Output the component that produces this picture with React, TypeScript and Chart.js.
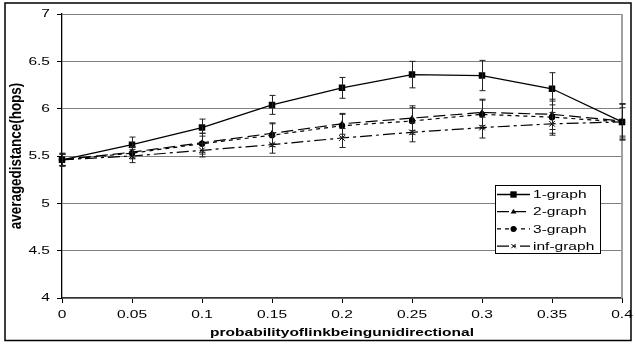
import React, { useEffect, useRef } from 'react';
import { Chart, registerables } from 'chart.js';

Chart.register(...registerables);

const categories = ['0', '0.05', '0.1', '0.15', '0.2', '0.25', '0.3', '0.35', '0.4'];
const seriesNames = ['1-graph', '2-graph', '3-graph', 'inf-graph'];

const graph1 = [5.46, 5.62, 5.8, 6.04, 6.22, 6.36, 6.35, 6.21, 5.86];
const graph1Err = [0.07, 0.08, 0.09, 0.1, 0.11, 0.14, 0.16, 0.17, 0.19];
const graph2 = [5.46, 5.54, 5.64, 5.74, 5.84, 5.9, 5.96, 5.94, 5.87];
const graph2Err = [0.06, 0.06, 0.1, 0.11, 0.11, 0.13, 0.14, 0.16, 0.18];
const graph3 = [5.46, 5.53, 5.63, 5.72, 5.82, 5.87, 5.94, 5.91, 5.86];
const graph3Err = [0.06, 0.06, 0.11, 0.12, 0.12, 0.14, 0.15, 0.17, 0.19];
const graphInf = [5.46, 5.5, 5.56, 5.62, 5.69, 5.75, 5.8, 5.84, 5.86];
const graphInfErr = [0.06, 0.07, 0.07, 0.09, 0.1, 0.1, 0.11, 0.12, 0.15];

const yMin = 4;
const yMax = 7;
const yStep = 0.5;
const xTitle = 'probabilityoflinkbeingunidirectional';
const yTitle = 'averagedistance(hops)';

const FONT = "'Liberation Sans', Arial, sans-serif";

const errors = [graph1Err, graph2Err, graph3Err, graphInfErr];

function drawMarker(ctx: CanvasRenderingContext2D, style: string, x: number, y: number, r: number) {
  ctx.save();
  ctx.fillStyle = '#000';
  ctx.strokeStyle = '#000';
  ctx.lineWidth = 1;
  ctx.setLineDash([]);
  ctx.beginPath();
  if (style === 'rect') {
    const s = r * Math.SQRT1_2;
    ctx.rect(x - s, y - s, 2 * s, 2 * s);
    ctx.fill();
  } else if (style === 'triangle') {
    ctx.moveTo(x, y - r);
    ctx.lineTo(x + r * 0.95, y + r * 0.6);
    ctx.lineTo(x - r * 0.95, y + r * 0.6);
    ctx.closePath();
    ctx.fill();
  } else if (style === 'circle') {
    ctx.arc(x, y, r, 0, Math.PI * 2);
    ctx.fill();
  } else {
    const s = r * Math.SQRT1_2;
    ctx.moveTo(x - s, y - s);
    ctx.lineTo(x + s, y + s);
    ctx.moveTo(x - s, y + s);
    ctx.lineTo(x + s, y - s);
    ctx.stroke();
  }
  ctx.restore();
}

const framePlugin = {
  id: 'frame',
  beforeDatasetsDraw(chart: any) {
    const { ctx, chartArea } = chart;
    ctx.save();
    ctx.strokeStyle = '#a0a0a0';
    ctx.lineWidth = 2;
    ctx.beginPath();
    ctx.moveTo(chartArea.right, chartArea.top);
    ctx.lineTo(chartArea.right, chartArea.bottom);
    ctx.stroke();
    ctx.restore();
  },
  afterDraw(chart: any) {
    const { ctx } = chart;
    ctx.save();
    ctx.strokeStyle = '#000';
    ctx.lineWidth = 1.5;
    ctx.strokeRect(5, 3, 626, 337.5);
    ctx.restore();
  },
};

const errorBarPlugin = {
  id: 'errorBars',
  afterDatasetsDraw(chart: any) {
    const { ctx } = chart;
    const yScale = chart.scales.y;
    ctx.save();
    ctx.strokeStyle = '#222';
    ctx.lineWidth = 1;
    ctx.setLineDash([]);
    chart.data.datasets.forEach((ds: any, i: number) => {
      const meta = chart.getDatasetMeta(i);
      const errs = errors[i];
      meta.data.forEach((pt: any, j: number) => {
        const v = ds.data[j];
        const e = errs[j];
        const x = Math.round(pt.x) + 0.5;
        const yt = yScale.getPixelForValue(v + e);
        const yb = yScale.getPixelForValue(v - e);
        ctx.beginPath();
        ctx.moveTo(x, yt);
        ctx.lineTo(x, yb);
        ctx.moveTo(x - 3, yt);
        ctx.lineTo(x + 3, yt);
        ctx.moveTo(x - 3, yb);
        ctx.lineTo(x + 3, yb);
        ctx.stroke();
      });
    });
    ctx.restore();
  },
};

const legendPlugin = {
  id: 'boxLegend',
  afterDraw(chart: any) {
    const { ctx } = chart;
    const bx = 495;
    const by = 185;
    const bw = 105;
    const bh = 68;
    ctx.save();
    ctx.fillStyle = '#fff';
    ctx.fillRect(bx, by, bw, bh);
    ctx.strokeStyle = '#000';
    ctx.lineWidth = 1;
    ctx.strokeRect(bx + 0.5, by + 0.5, bw, bh);
    chart.data.datasets.forEach((ds: any, i: number) => {
      const cy = by + 9.5 + i * 17.2;
      ctx.save();
      ctx.strokeStyle = '#000';
      ctx.lineWidth = ds.borderWidth;
      ctx.setLineDash(ds.borderDash || []);
      ctx.beginPath();
      ctx.moveTo(bx + 2, cy);
      ctx.lineTo(bx + 35, cy);
      ctx.stroke();
      ctx.restore();
      drawMarker(ctx, ds.pointStyle, bx + 18.5, cy, ds.pointStyle === 'rect' ? 4.5 : 3);
      ctx.fillStyle = '#000';
      ctx.font = `11.5px ${FONT}`;
      ctx.textAlign = 'left';
      ctx.textBaseline = 'middle';
      ctx.fillText(ds.label, bx + 38, cy + 0.5);
    });
    ctx.restore();
  },
};

export default function App() {
  const ref = useRef<HTMLCanvasElement | null>(null);

  useEffect(() => {
    const canvas = ref.current;
    if (!canvas) return;
    const ctx = canvas.getContext('2d') as any;
    const orig = CanvasRenderingContext2D.prototype.fillText;
    ctx.fillText = function (text: string, x: number, y: number) {
      const m = this.getTransform();
      const rotated = Math.abs(m.b) > 0.5;
      this.save();
      this.translate(x, y);
      if (rotated) this.scale(1.17, 1.36);
      else this.scale(1.35, 1);
      orig.call(this, text, 0, 0);
      this.restore();
    };

    const chart = new Chart(canvas, {
      type: 'line',
      data: {
        labels: categories,
        datasets: [
          {
            label: seriesNames[0],
            data: graph1,
            borderColor: '#000',
            backgroundColor: '#000',
            borderWidth: 1.3,
            pointStyle: 'rect',
            pointRadius: 4.6,
            pointBackgroundColor: '#000',
            pointBorderColor: '#000',
            pointBorderWidth: 0,
            tension: 0,
          },
          {
            label: seriesNames[1],
            data: graph2,
            borderColor: '#000',
            backgroundColor: '#000',
            borderWidth: 1.2,
            borderDash: [12, 5],
            pointStyle: 'triangle',
            pointRadius: 3.5,
            pointBackgroundColor: '#000',
            pointBorderColor: '#000',
            pointBorderWidth: 0,
            tension: 0,
          },
          {
            label: seriesNames[2],
            data: graph3,
            borderColor: '#000',
            backgroundColor: '#000',
            borderWidth: 1.2,
            borderDash: [4, 4],
            pointStyle: 'circle',
            pointRadius: 3.2,
            pointBackgroundColor: '#000',
            pointBorderColor: '#000',
            pointBorderWidth: 0,
            tension: 0,
          },
          {
            label: seriesNames[3],
            data: graphInf,
            borderColor: '#000',
            backgroundColor: '#000',
            borderWidth: 1.2,
            borderDash: [12, 4, 3, 4],
            pointStyle: 'crossRot',
            pointRadius: 4,
            pointBackgroundColor: '#000',
            pointBorderColor: '#000',
            pointBorderWidth: 1,
            tension: 0,
          },
        ],
      },
      options: {
        animation: false,
        responsive: false,
        devicePixelRatio: 1,
        layout: { padding: { left: 0, top: 14, right: 12, bottom: 0 } },
        plugins: {
          legend: { display: false },
          tooltip: { enabled: false },
        },
        scales: {
          x: {
            type: 'category',
            offset: false,
            afterFit: (scale: any) => {
              scale.height = 46;
            },
            grid: {
              display: true,
              drawOnChartArea: false,
              drawTicks: true,
              tickLength: 5,
              tickColor: '#000',
            },
            border: { display: true, color: '#333', width: 1.2 },
            ticks: {
              color: '#000',
              font: { family: FONT, size: 11.5 },
              padding: 5,
              maxRotation: 0,
              autoSkip: false,
            },
            title: {
              display: true,
              text: xTitle,
              color: '#000',
              font: { family: FONT, size: 11.5, weight: 'bold' },
              padding: { top: 0, bottom: 4 },
            },
          },
          y: {
            min: yMin,
            max: yMax,
            afterFit: (scale: any) => {
              scale.width = 62;
            },
            ticks: {
              stepSize: yStep,
              color: '#000',
              font: { family: FONT, size: 11.5 },
              padding: 7,
              callback: (v: any) => String(Number(v)),
            },
            grid: {
              color: '#808080',
              lineWidth: 1,
              drawTicks: true,
              tickLength: 5,
              tickColor: '#000',
            },
            border: { display: true, color: '#000', width: 1.3 },
            title: {
              display: true,
              text: yTitle,
              color: '#000',
              font: { family: FONT, size: 11.5, weight: 'bold' },
              padding: { top: 10, bottom: 0 },
            },
          },
        },
      },
      plugins: [framePlugin, errorBarPlugin, legendPlugin],
    } as any);

    return () => {
      chart.destroy();
      delete ctx.fillText;
    };
  }, []);

  return (
    <div style={{ position: 'fixed', left: 0, top: 0, width: 635, height: 344, background: '#fff' }}>
      <canvas ref={ref} width={635} height={344} style={{ display: 'block', width: 635, height: 344 }} />
    </div>
  );
}
